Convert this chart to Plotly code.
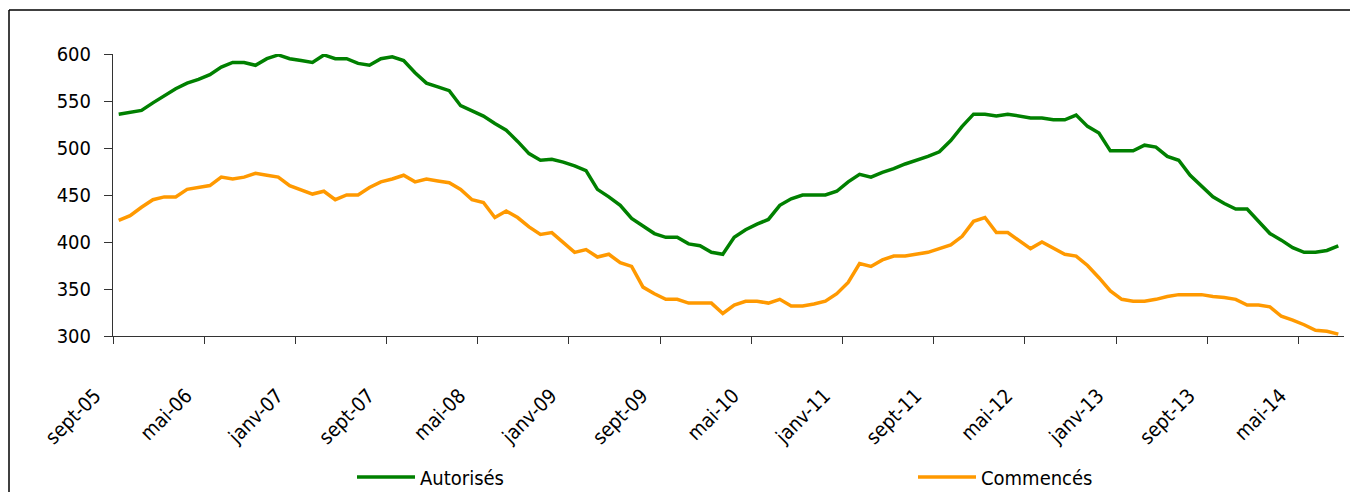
import plotly.graph_objects as go

months = ["janv", "févr", "mars", "avr", "mai", "juin", "juil", "août", "sept", "oct", "nov", "déc"]
# monthly categories: sept-05 .. août-14
categories = []
for k in range(108):
    m = (8 + k) % 12
    y = 5 + (8 + k) // 12
    categories.append(f"{months[m]}-{y:02d}")

autorises = [536, 538, 540, 548, 556, 563, 569, 573, 578, 586, 591, 591, 588, 595, 599, 595, 593, 591,
             599, 595, 595, 590, 588, 595, 597, 593, 580, 569, 565, 561, 545, 540, 534, 526, 519, 507,
             494, 487, 488, 485, 481, 476, 456, 448, 439, 425, 417, 409, 405, 405, 398, 396, 389, 387,
             405, 413, 419, 424, 439, 446, 450, 450, 450, 454, 464, 472, 469, 474, 478, 483, 487, 491,
             496, 508, 523, 536, 536, 534, 536, 534, 532, 532, 530, 530, 535, 523, 516, 497, 497, 497,
             503, 501, 491, 487, 471, 459, 448, 441, 435, 435, 422, 409, 402, 394, 389, 389, 391, 396]

commences = [423, 428, 437, 445, 448, 448, 456, 458, 460, 469, 467, 469, 473, 471, 469, 460, 455, 451,
             454, 445, 450, 450, 458, 464, 467, 471, 464, 467, 465, 463, 456, 445, 442, 426, 433, 426,
             416, 408, 410, 399, 389, 392, 384, 387, 378, 374, 352, 345, 339, 339, 335, 335, 335, 324,
             333, 337, 337, 335, 339, 332, 332, 334, 337, 345, 357, 377, 374, 381, 385, 385, 387, 389,
             393, 397, 406, 422, 426, 410, 410, 401, 393, 400, 393, 387, 385, 375, 362, 348, 339, 337,
             337, 339, 342, 344, 344, 344, 342, 341, 339, 333, 333, 331, 321, 317, 312, 306, 305, 302]

tick_labels = ["sept-05", "mai-06", "janv-07", "sept-07", "mai-08", "janv-09", "sept-09",
               "mai-10", "janv-11", "sept-11", "mai-12", "janv-13", "sept-13", "mai-14"]

x_idx = list(range(len(categories)))
tickvals = [categories.index(t) - 0.5 for t in tick_labels]

FONT = "DejaVu Sans Condensed"
W, H = 1350, 492
L, T = 113, 54
R, B = W - 1344, H - 336
PW, PH = W - L - R, H - T - B


def px_x(x):
    return (x - L) / PW


def px_y(y):
    return (T + PH - y) / PH


fig = go.Figure()
fig.add_trace(go.Scatter(x=x_idx, y=autorises, mode="lines", name="Autorisés", legend="legend",
                         line=dict(color="#008000", width=3.5), customdata=categories,
                         hovertemplate="%{customdata}: %{y}<extra>Autorisés</extra>"))
fig.add_trace(go.Scatter(x=x_idx, y=commences, mode="lines", name="Commencés", legend="legend2",
                         line=dict(color="#FF9900", width=3.5), customdata=categories,
                         hovertemplate="%{customdata}: %{y}<extra>Commencés</extra>"))

leg_common = dict(orientation="h", yanchor="middle", xanchor="left", font=dict(size=20, color="#000000"),
                  bgcolor="rgba(0,0,0,0)", itemwidth=58)

fig.update_layout(
    width=W, height=H,
    margin=dict(l=L, r=R, t=T, b=B, autoexpand=False),
    paper_bgcolor="white", plot_bgcolor="white",
    font=dict(family=FONT, size=20, color="#000000"),
    showlegend=True,
    legend=dict(x=px_x(352), y=px_y(477), **leg_common),
    legend2=dict(x=px_x(913), y=px_y(477), **leg_common),
    xaxis=dict(range=[-0.5, 107.5], tickmode="array", tickvals=tickvals, ticktext=tick_labels,
               tickangle=-45, ticks="outside", ticklen=7, tickcolor="#333333", tickwidth=1,
               showline=True, linecolor="#333333", linewidth=1, showgrid=False, zeroline=False,
               ticklabelstandoff=32, ticklabelshift=-18, automargin=False),
    yaxis=dict(range=[300, 600], tickmode="array", tickvals=[300, 350, 400, 450, 500, 550, 600],
               ticks="outside", ticklen=8, tickcolor="#333333", showline=True, linecolor="#333333",
               linewidth=1, showgrid=False, zeroline=False, ticklabelstandoff=9, automargin=False),
)

# outer frame of the chart (top and left edges visible)
frame = dict(color="#000000", width=1.5)
fig.add_shape(type="line", xref="paper", yref="paper", x0=px_x(9), x1=px_x(1360),
              y0=px_y(10), y1=px_y(10), line=frame, layer="below")
fig.add_shape(type="line", xref="paper", yref="paper", x0=px_x(9), x1=px_x(9),
              y0=px_y(10), y1=px_y(500), line=frame, layer="below")

fig.write_html("out.html", config={"displayModeBar": False},
               post_script="document.body.style.margin='0px';document.body.style.overflow='hidden';")
